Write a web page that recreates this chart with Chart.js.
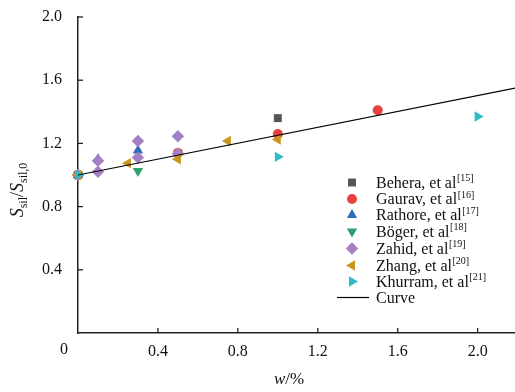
<!DOCTYPE html>
<html>
<head>
    <title>Ssil ratio vs w</title>
    <script src="https://cdn.jsdelivr.net/npm/chart.js"></script>
    <style>
        body { margin: 0; background: #fff; }
        canvas { display: block; }
    </style>
</head>
<body>
    <canvas id="ratioChart" width="515" height="392"></canvas>
    <script>
        // values
        const beheraX = [0, 1.0];
        const beheraY = [1.0, 1.36];
        const gauravX = [0, 0.5, 1.0, 1.5];
        const gauravY = [1.0, 1.14, 1.26, 1.41];
        const rathoreX = [0, 0.1, 0.3];
        const rathoreY = [1.0, 1.10, 1.155];
        const bogerX = [0, 0.3];
        const bogerY = [1.0, 1.025];
        const zahidX = [0, 0.1, 0.1, 0.3, 0.3, 0.5, 0.5];
        const zahidY = [1.0, 1.09, 1.02, 1.215, 1.11, 1.245, 1.135];
        const zhangX = [0, 0.25, 0.5, 0.75, 1.0];
        const zhangY = [1.0, 1.075, 1.10, 1.215, 1.225];
        const khurramX = [0, 1.0, 2.0];
        const khurramY = [1.0, 1.115, 1.37];
        const curveX = [0, 2.19];
        const curveY = [1.0, 1.55];
        const tickVals = [0, 0.4, 0.8, 1.2, 1.6, 2.0];

        const series = [
            { name: 'Behera, et al', ref: '[15]', x: beheraX, y: beheraY, color: '#555555', style: 'rect', rot: 0, r: 5.6 },
            { name: 'Gaurav, et al', ref: '[16]', x: gauravX, y: gauravY, color: '#e8403f', style: 'circle', rot: 0, r: 5 },
            { name: 'Rathore, et al', ref: '[17]', x: rathoreX, y: rathoreY, color: '#2f6db5', style: 'triangle', rot: 0, r: 6 },
            { name: 'Böger, et al', ref: '[18]', x: bogerX, y: bogerY, color: '#2ea26b', style: 'triangle', rot: 180, r: 6 },
            { name: 'Zahid, et al', ref: '[19]', x: zahidX, y: zahidY, color: '#a47fc4', style: 'rectRot', rot: 0, r: 6.2 },
            { name: 'Zhang, et al', ref: '[20]', x: zhangX, y: zhangY, color: '#c9951c', style: 'triangle', rot: -90, r: 6 },
            { name: 'Khurram, et al', ref: '[21]', x: khurramX, y: khurramY, color: '#2fbcc6', style: 'triangle', rot: 90, r: 6 }
        ];

        const toPts = (xs, ys) => xs.map((v, i) => ({ x: v, y: ys[i] }));

        const datasets = series.map((s, i) => ({
            label: s.name,
            data: toPts(s.x, s.y),
            backgroundColor: s.color,
            borderColor: s.color,
            borderWidth: 0,
            pointStyle: s.style,
            rotation: s.rot,
            pointRadius: s.r,
            pointHoverRadius: s.r,
            clip: false,
            order: series.length - i
        }));
        datasets.push({
            label: 'Curve',
            data: toPts(curveX, curveY),
            showLine: true,
            borderColor: '#000',
            borderWidth: 1.2,
            pointRadius: 0,
            fill: false,
            order: 0
        });

        const serif = '"Liberation Serif", "DejaVu Serif", serif';

        const extras = {
            id: 'extras',
            afterDraw(chart) {
                const ctx = chart.ctx;
                const xs = chart.scales.x, ys = chart.scales.y;
                const x0 = xs.getPixelForValue(0), y0 = ys.getPixelForValue(0);
                ctx.save();
                // inward ticks
                ctx.strokeStyle = '#222';
                ctx.lineWidth = 1.3;
                tickVals.slice(1).forEach(v => {
                    const px = xs.getPixelForValue(v);
                    ctx.beginPath(); ctx.moveTo(px, y0); ctx.lineTo(px, y0 - 5); ctx.stroke();
                    const py = ys.getPixelForValue(v);
                    ctx.beginPath(); ctx.moveTo(x0, py); ctx.lineTo(x0 + 5, py); ctx.stroke();
                });
                // shared origin label
                ctx.fillStyle = '#111';
                ctx.font = '16px ' + serif;
                ctx.textAlign = 'center';
                ctx.textBaseline = 'middle';
                ctx.fillText('0', x0 - 14, y0 + 17);

                // x title: w/%
                ctx.textBaseline = 'alphabetic';
                ctx.textAlign = 'left';
                ctx.font = 'italic 17px ' + serif;
                const wW = ctx.measureText('w').width;
                ctx.font = '17px ' + serif;
                const restW = ctx.measureText('/%').width;
                let tx = 289 - (wW + restW) / 2;
                ctx.font = 'italic 17px ' + serif;
                ctx.fillText('w', tx, 384);
                ctx.font = '17px ' + serif;
                ctx.fillText('/%', tx + wW, 384);

                // y title: S_sil / S_sil,0 rotated
                ctx.save();
                ctx.translate(23, 190);
                ctx.rotate(-Math.PI / 2);
                const parts = [
                    { t: 'S', f: 'italic 18px ' + serif, dy: 0 },
                    { t: 'sil', f: '12px ' + serif, dy: 4 },
                    { t: '/', f: '18px ' + serif, dy: 0 },
                    { t: 'S', f: 'italic 18px ' + serif, dy: 0 },
                    { t: 'sil,0', f: '12px ' + serif, dy: 4 }
                ];
                let total = 0;
                parts.forEach(p => { ctx.font = p.f; p.w = ctx.measureText(p.t).width; total += p.w; });
                let cx = -total / 2;
                parts.forEach(p => { ctx.font = p.f; ctx.fillText(p.t, cx, p.dy); cx += p.w; });
                ctx.restore();

                // legend
                const rowY = [182.5, 199, 215, 231.5, 248.5, 265.5, 281.5];
                series.forEach((s, i) => {
                    ctx.fillStyle = s.color;
                    ctx.strokeStyle = s.color;
                    Chart.helpers.drawPoint(ctx, { pointStyle: s.style, rotation: s.rot, radius: s.r, borderWidth: 0 }, 352, rowY[i]);
                    ctx.fillStyle = '#111';
                    ctx.font = '16px ' + serif;
                    ctx.textBaseline = 'middle';
                    ctx.fillText(s.name, 376, rowY[i] + 1);
                    const nw = ctx.measureText(s.name).width;
                    ctx.font = '10px ' + serif;
                    ctx.fillText(s.ref, 376 + nw + 0.5, rowY[i] - 4);
                });
                ctx.strokeStyle = '#000';
                ctx.lineWidth = 1.2;
                ctx.beginPath(); ctx.moveTo(337, 297.5); ctx.lineTo(369, 297.5); ctx.stroke();
                ctx.fillStyle = '#111';
                ctx.font = '16px ' + serif;
                ctx.fillText('Curve', 376, 298.5);
                ctx.restore();
            }
        };

        const ctx = document.getElementById('ratioChart').getContext('2d');
        const ratioChart = new Chart(ctx, {
            type: 'scatter',
            data: { datasets: datasets },
            options: {
                responsive: false,
                animation: false,
                layout: { autoPadding: false, padding: { top: 17, right: 0, left: 0, bottom: 0 } },
                plugins: {
                    legend: { display: false },
                    tooltip: { enabled: false }
                },
                scales: {
                    x: {
                        type: 'linear',
                        min: 0,
                        max: 2.187,
                        afterBuildTicks: scale => { scale.ticks = tickVals.map(v => ({ value: v })); },
                        afterFit: scale => { scale.height = 59; scale.paddingLeft = 0; scale.paddingRight = 0; },
                        grid: { display: false, drawTicks: false },
                        border: { display: true, color: '#222', width: 1.5 },
                        ticks: {
                            padding: 9,
                            color: '#111',
                            font: { family: serif, size: 16 },
                            callback: v => v === 0 ? '' : v.toFixed(1)
                        }
                    },
                    y: {
                        type: 'linear',
                        min: 0,
                        max: 2.0,
                        afterBuildTicks: scale => { scale.ticks = tickVals.map(v => ({ value: v })); },
                        afterFit: scale => { scale.width = 78; scale.paddingTop = 0; scale.paddingBottom = 0; },
                        grid: { display: false, drawTicks: false },
                        border: { display: true, color: '#222', width: 1.5 },
                        ticks: {
                            padding: 16,
                            color: '#111',
                            font: { family: serif, size: 16 },
                            callback: v => v === 0 ? '' : v.toFixed(1)
                        }
                    }
                }
            },
            plugins: [extras]
        });
    </script>
</body>
</html>
